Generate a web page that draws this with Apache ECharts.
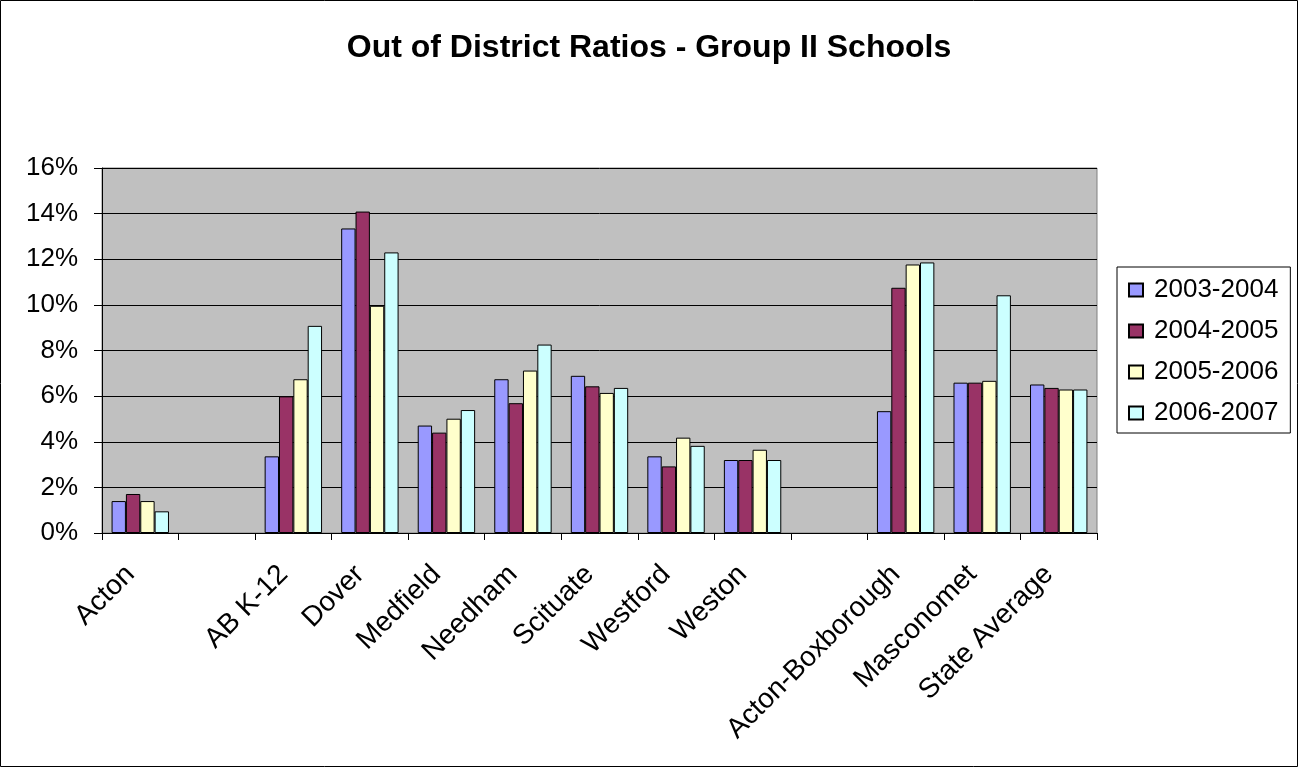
<!DOCTYPE html>
<html>
<head>
<meta charset="utf-8">
<script src="https://cdn.jsdelivr.net/npm/echarts@6/dist/echarts.min.js"></script>
<style>
html,body{margin:0;padding:0;background:#fff;}
#chart{width:1298px;height:767px;}
</style>
</head>
<body>
<div id="chart"></div>
<script>
const categories = ["Acton", "", "AB K-12", "Dover", "Medfield", "Needham", "Scituate", "Westford", "Weston", "", "Acton-Boxborough", "Masconomet", "State Average"];
const seriesNames = ["2003-2004", "2004-2005", "2005-2006", "2006-2007"];
const s2003 = [1.40, null, 3.36, 13.35, 4.71, 6.74, 6.89, 3.36, 3.20, null, 5.34, 6.59, 6.51];
const s2004 = [1.71, null, 5.99, 14.09, 4.40, 5.69, 6.43, 2.92, 3.20, null, 10.75, 6.59, 6.36];
const s2005 = [1.40, null, 6.74, 9.96, 5.01, 7.12, 6.14, 4.18, 3.65, null, 11.77, 6.67, 6.29];
const s2006 = [0.95, null, 9.08, 12.30, 5.39, 8.26, 6.36, 3.82, 3.20, null, 11.86, 10.42, 6.29];
const yTicks = [0, 2, 4, 6, 8, 10, 12, 14, 16];
const colors = ["#9999FF", "#993366", "#FFFFCC", "#CCFFFF"];
const title = "Out of District Ratios - Group II Schools";

const chart = echarts.init(document.getElementById('chart'), null, {renderer: 'canvas'});
const allData = [s2003, s2004, s2005, s2006];
const font = "Liberation Sans, Arial, sans-serif";

chart.setOption({
  animation: false,
  backgroundColor: '#ffffff',
  title: {
    text: title,
    left: 'center',
    top: 27,
    textStyle: {fontFamily: font, fontSize: 32, fontWeight: 'bold', color: '#000'}
  },
  graphic: [{
    type: 'rect', silent: true, z: -1,
    shape: {x: 0.5, y: 0.5, width: 1297, height: 766},
    style: {fill: 'none', stroke: '#000', lineWidth: 1}
  }],
  legend: {
    orient: 'vertical',
    left: 1117,
    top: 267,
    padding: [10, 12, 7, 11],
    itemWidth: 14,
    itemHeight: 13,
    itemGap: 15,
    borderColor: '#000',
    borderWidth: 1,
    icon: 'rect',
    textStyle: {fontFamily: font, fontSize: 26, color: '#000', lineHeight: 26, padding: [0, 0, 0, 6]},
    data: seriesNames
  },
  grid: {
    left: 102, right: 201, top: 168, bottom: 234,
    show: true,
    backgroundColor: '#C0C0C0',
    borderColor: '#808080',
    borderWidth: 1
  },
  xAxis: {
    type: 'category',
    data: categories,
    axisLine: {show: true, lineStyle: {color: '#000', width: 1}},
    axisTick: {show: true, alignWithLabel: false, length: 7, lineStyle: {color: '#000'}},
    axisLabel: {
      interval: 0,
      rotate: 45,
      fontFamily: font,
      fontSize: 28,
      color: '#000',
      margin: 47,
      align: 'right',
      verticalAlign: 'bottom'
    }
  },
  yAxis: {
    type: 'value',
    min: 0,
    max: 16,
    interval: 2,
    axisLine: {show: true, lineStyle: {color: '#000', width: 1}},
    axisTick: {show: true, length: 8, lineStyle: {color: '#000'}},
    splitLine: {show: true, lineStyle: {color: '#000', width: 1}},
    axisLabel: {
      formatter: function (v) { return yTicks.indexOf(v) >= 0 ? v + '%' : ''; },
      fontFamily: font,
      fontSize: 26,
      color: '#000',
      margin: 24
    }
  },
  series: seriesNames.map(function (name, i) {
    return {
      name: name,
      type: 'bar',
      data: allData[i],
      barGap: '0%',
      barCategoryGap: '25%',
      itemStyle: {color: colors[i], borderColor: '#000', borderWidth: 1}
    };
  })
});
</script>
</body>
</html>
